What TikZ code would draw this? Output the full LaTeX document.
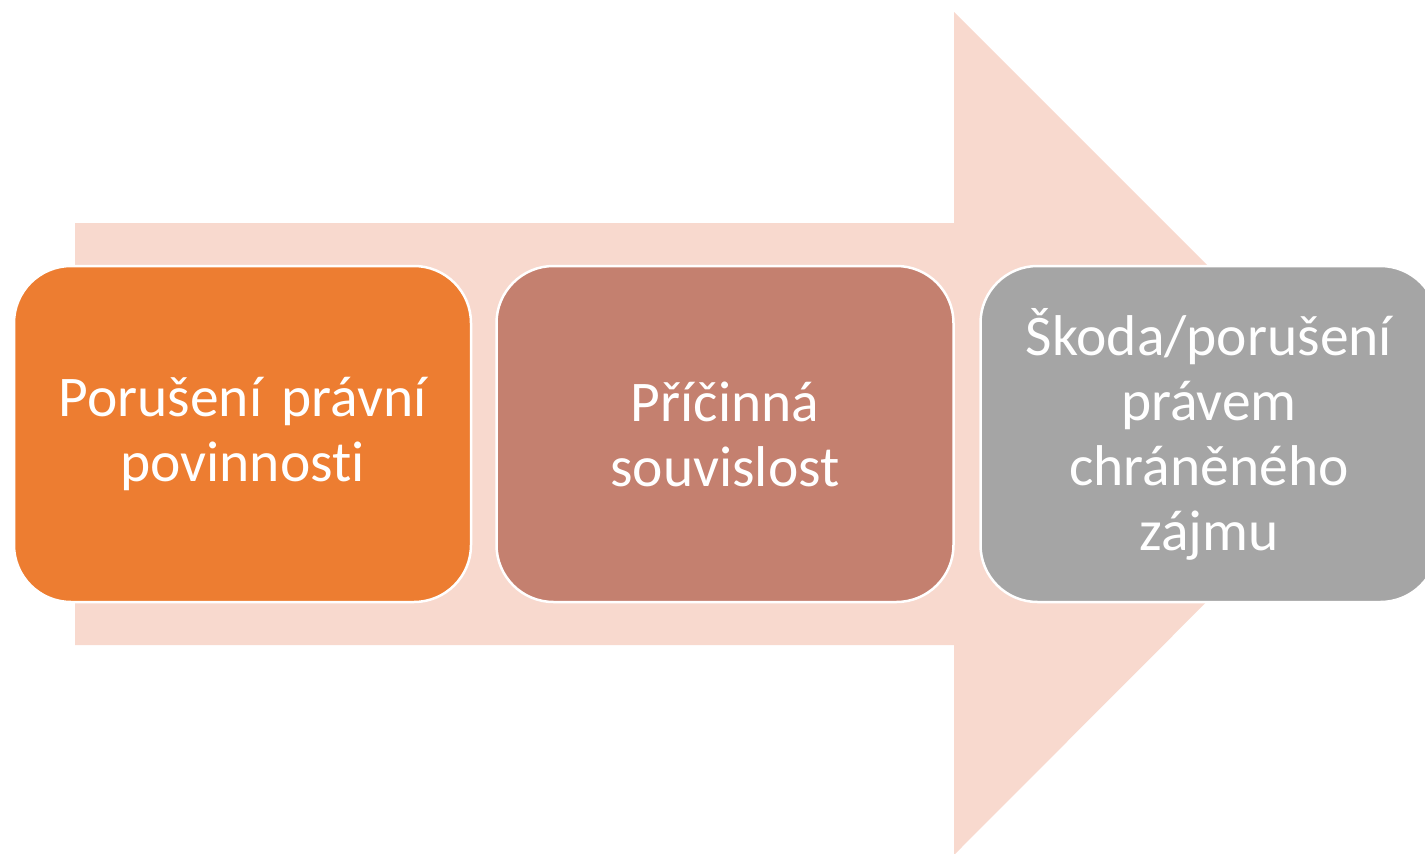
\documentclass[tikz,border=0pt]{standalone}
\usepackage{fontspec}
\setmainfont[Ligatures=CommonOff]{Carlito}
\definecolor{arrowpink}{HTML}{F8D9CE}
\definecolor{boxorange}{HTML}{ED7D31}
\definecolor{boxrose}{HTML}{C4806F}
\definecolor{boxgray}{HTML}{A5A5A5}
\tikzset{
  stagebox/.style={rectangle, rounded corners=57pt, draw=white, line width=2.5pt,
    minimum width=457pt, minimum height=336pt, inner sep=0pt, text width=445pt,
    align=center, text=white, font=\fontsize{57.5pt}{65pt}\selectfont},
}
\begin{document}
\begin{tikzpicture}[x=1pt,y=-1pt]
  \useasboundingbox (0,0) rectangle (1425,854);
  \clip (0,0) rectangle (1425,854);
  % big arrow
  \fill[arrowpink] (75,223) -- (954,223) -- (954,12) -- (1375,433) -- (954,855) -- (954,645) -- (75,645) -- cycle;
  % boxes
  \node[stagebox, fill=boxorange] (b1) at (242.5,434) {Porušení právní\\povinnosti};
  \node[stagebox, fill=boxrose] (b2) at (725,434) {Příčinná\\souvislost};
  \node[stagebox, fill=boxgray] (b3) at (1209,434) {Škoda/porušení\\právem\\chráněného\\zájmu};
\end{tikzpicture}
\end{document}
